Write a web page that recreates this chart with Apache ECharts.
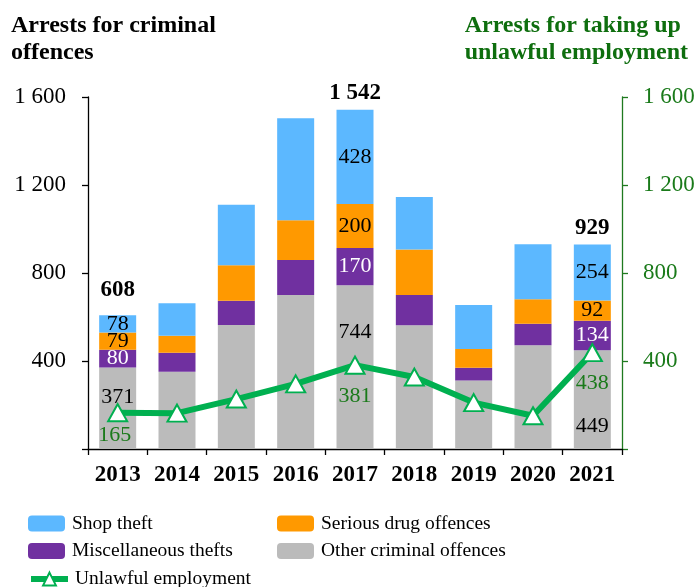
<!DOCTYPE html>
<html>
<head>
<meta charset="utf-8">
<script src="https://cdn.jsdelivr.net/npm/echarts@6/dist/echarts.min.js"></script>
<style>html,body{margin:0;padding:0;background:#fff}#c{width:698px;height:587px}</style>
</head>
<body>
<div id="c"></div>
<script>
const years = ['2013','2014','2015','2016','2017','2018','2019','2020','2021'];
const otherOffences = [371, 351, 564, 700, 744, 563, 311, 472, 449];
const miscThefts = [80, 86, 110, 159, 170, 137, 58, 97, 134];
const drugOffences = [79, 78, 161, 181, 200, 207, 85, 112, 92];
const shopTheft = [78, 147, 275, 463, 428, 239, 201, 250, 254];
const unlawfulEmployment = [165, 163, 227, 296, 381, 327, 211, 151, 438];
const labelledYears = ['2013', '2017', '2021'];
const yTicks = [0, 400, 800, 1200, 1600];

const FONT = "'Liberation Serif', 'Times New Roman', serif";
const GREEN_TXT = '#1a7a1a';
const fmt = v => String(v).replace(/\B(?=(\d{3})+(?!\d))/g, ' ');
const tickFmt = v => v === 0 ? '' : fmt(v);

// label layout tweaks (styles only)
const otherLabelOffset = {'2013': -11, '2017': -35, '2021': 27};
const lineLabelOffset = {'2013': [-3, 23], '2017': [0, 31], '2021': [0, 31]};
const totalLabelDist = {'2013': 13, '2017': 5, '2021': 5};

function barData(arr, color, key) {
  return arr.map((v, i) => {
    const y = years[i];
    if (labelledYears.indexOf(y) < 0) return v;
    const lab = {show: true, position: 'inside', color: color, fontSize: 22, fontFamily: FONT,
      formatter: p => fmt(p.value)};
    if (key === 'other') lab.offset = [0, otherLabelOffset[y]];
    return {value: v, label: lab};
  });
}

const totals = years.map((y, i) => otherOffences[i] + miscThefts[i] + drugOffences[i] + shopTheft[i]);

const chart = echarts.init(document.getElementById('c'), null, {renderer: 'canvas'});
const legendBase = {padding: 0, itemWidth: 37, itemHeight: 16, itemGap: 0, selectedMode: false,
  textStyle: {fontFamily: FONT, fontSize: 19.5, color: '#000', lineHeight: 20, padding: [0, 0, 0, 2]}};
chart.setOption({
  animation: false,
  backgroundColor: '#fff',
  textStyle: {fontFamily: FONT},
  graphic: [
    {type: 'text', left: 11, top: 12, style: {text: 'Arrests for criminal\noffences', font: 'bold 24px ' + FONT, fill: '#000', lineHeight: 27}},
    {type: 'text', right: 10, top: 12, style: {text: 'Arrests for taking up\nunlawful employment', font: 'bold 24px ' + FONT, fill: '#0e6e0e', lineHeight: 27, align: 'right'}}
  ],
  legend: [
    Object.assign({}, legendBase, {data: ['Shop theft'], left: 28, top: 513.5}),
    Object.assign({}, legendBase, {data: ['Serious drug offences'], left: 277, top: 513.5}),
    Object.assign({}, legendBase, {data: ['Miscellaneous thefts'], left: 28, top: 541}),
    Object.assign({}, legendBase, {data: ['Other criminal offences'], left: 277, top: 541}),
    Object.assign({}, legendBase, {data: ['Unlawful employment'], left: 28, top: 569,
      lineStyle: {width: 6, color: '#00B050'}, itemStyle: {color: '#fff', borderColor: '#00B050', borderWidth: 2}})
  ],
  grid: {left: 88, right: 76, top: 97, bottom: 138, containLabel: false},
  xAxis: {
    type: 'category', data: years, boundaryGap: true,
    axisLine: {show: true, lineStyle: {color: '#000', width: 1.3}},
    axisTick: {show: true, interval: 0, length: 6, lineStyle: {color: '#000', width: 1.3}},
    axisLabel: {margin: 15, fontFamily: FONT, fontSize: 23, fontWeight: 'bold', color: '#000', interval: 0},
    splitLine: {show: false}
  },
  yAxis: [
    {type: 'value', min: yTicks[0], max: yTicks[yTicks.length - 1], interval: 400, position: 'left',
      axisLine: {show: true, lineStyle: {color: '#000', width: 1.3}},
      axisTick: {show: true, length: 6, lineStyle: {color: '#000', width: 1.3}},
      axisLabel: {margin: 22, fontFamily: FONT, fontSize: 23, color: '#000', formatter: tickFmt},
      splitLine: {show: false}},
    {type: 'value', min: yTicks[0], max: yTicks[yTicks.length - 1], interval: 400, position: 'right',
      axisLine: {show: true, lineStyle: {color: '#1f7a1f', width: 1.3}},
      axisTick: {show: true, length: 6, lineStyle: {color: '#1f7a1f', width: 1.3}},
      axisLabel: {margin: 21, fontFamily: FONT, fontSize: 23, color: GREEN_TXT, formatter: tickFmt},
      splitLine: {show: false}}
  ],
  series: [
    {name: 'Other criminal offences', type: 'bar', stack: 'a', barWidth: 37, itemStyle: {color: '#BBBBBB'},
      data: barData(otherOffences, '#000', 'other')},
    {name: 'Miscellaneous thefts', type: 'bar', stack: 'a', barWidth: 37, itemStyle: {color: '#7030A0'},
      data: barData(miscThefts, '#fff', 'misc')},
    {name: 'Serious drug offences', type: 'bar', stack: 'a', barWidth: 37, itemStyle: {color: '#FF9900'},
      data: barData(drugOffences, '#000', 'drug')},
    {name: 'Shop theft', type: 'bar', stack: 'a', barWidth: 37, itemStyle: {color: '#5CB8FF'},
      data: barData(shopTheft, '#000', 'shop')},
    {name: 'totals', type: 'scatter', symbolSize: 1, itemStyle: {color: 'rgba(0,0,0,0)', opacity: 1}, silent: true, z: 5,
      data: totals.map((t, i) => labelledYears.indexOf(years[i]) < 0 ? '-' : {value: t,
        label: {show: true, position: 'top', distance: totalLabelDist[years[i]], fontFamily: FONT, fontSize: 23, fontWeight: 'bold', color: '#000', opacity: 1, formatter: p => fmt(p.value)}})},
    {name: 'Unlawful employment', type: 'line', yAxisIndex: 1, z: 10,
      symbol: 'triangle', symbolSize: [19, 17],
      itemStyle: {color: '#fff', borderColor: '#00B050', borderWidth: 2},
      lineStyle: {color: '#00B050', width: 6},
      data: unlawfulEmployment.map((v, i) => labelledYears.indexOf(years[i]) < 0 ? v : {value: v,
        label: {show: true, position: 'inside', offset: lineLabelOffset[years[i]], fontFamily: FONT, fontSize: 22, color: GREEN_TXT}})}
  ]
});
</script>
</body>
</html>
